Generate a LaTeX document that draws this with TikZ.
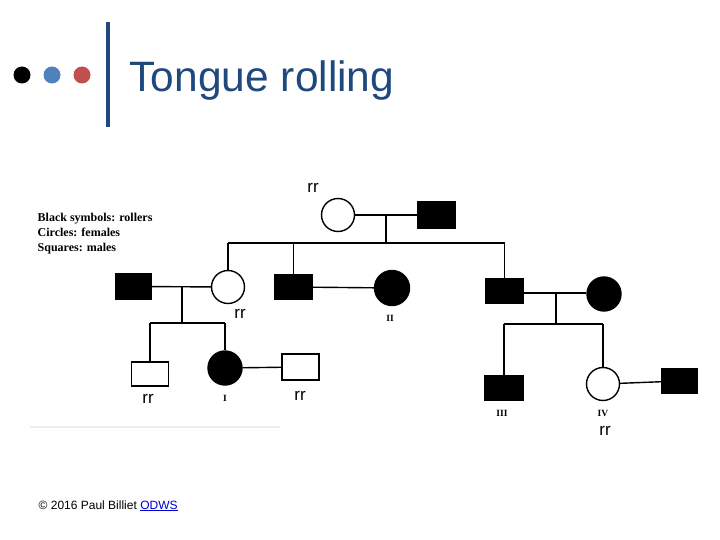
\documentclass[tikz,border=0pt]{standalone}
\usepackage{fontspec}
\setmainfont{Liberation Sans}
\newfontfamily\legendfont{Liberation Serif}
\usetikzlibrary{calc}
\definecolor{titleblue}{HTML}{1F497D}
\definecolor{dotblue}{HTML}{4F81BD}
\definecolor{dotred}{HTML}{C0504D}
\definecolor{linkblue}{HTML}{0000CC}
\begin{document}
\begin{tikzpicture}[x=1pt,y=-1pt,
  line width=1.4pt,
  male/.style={draw=black,rectangle,minimum width=37pt,minimum height=25pt,inner sep=0pt},
  female/.style={draw=black,circle,minimum size=33pt,inner sep=0pt},
  aff/.style={fill=black},
  unaff/.style={fill=white},
  geno/.style={font=\fontsize{17}{19}\selectfont,inner sep=0pt},
  roman/.style={font=\legendfont\bfseries\fontsize{9.5}{10}\selectfont,inner sep=0pt},
  dot/.style={circle,inner sep=0pt,minimum size=17pt}]
\useasboundingbox (0,0) rectangle (720,540);
% header
\node[dot,fill=black] (d1) at (22,75) {};
\node[dot,fill=dotblue] (d2) at (52,75) {};
\node[dot,fill=dotred] (d3) at (82,75) {};
\draw[titleblue,line width=4pt] (108,22) -- (108,127);
\node[anchor=base west,inner sep=0pt,text=titleblue,font=\fontsize{42.5}{46}\selectfont] (title) at (129,92) {Tongue rolling};
% legend
\node[anchor=north west,inner sep=0pt,align=left,font=\legendfont\bfseries\fontsize{12}{15}\selectfont] (legend) at (37,212.5)
  {Black symbols: rollers\\Circles: females\\Squares: males};
% faint scan line
\draw[black!7,line width=1.2pt] (30,427) -- (280,427);
% generation I
\node[female,unaff] (I1) at (338,215) {};
\node[male,aff,minimum height=26pt] (I2) at (436.5,215) {};
\draw (I1) -- (I2);
\coordinate (cI) at (386,215);
\coordinate (sI) at (386,243);
\draw (cI) -- (sI);
\coordinate (sIa) at (228,243);
\coordinate (sIb) at (293.5,243);
\coordinate (sIc) at (504.5,243);
\draw (sIa) -- (sIc);
% generation II
\node[male,aff,minimum width=35pt] (II1) at (133.5,286.5) {};
\node[female,unaff] (II2) at (228,287) {};
\node[male,aff,minimum height=24pt] (II3) at (293.5,287) {};
\node[female,aff,minimum size=35pt] (II4) at (392,288) {};
\node[male,aff,minimum height=24pt] (II5) at (504.5,291) {};
\node[female,aff,minimum size=34pt] (II6) at (604,294) {};
\draw (sIa) -- (II2.north);
\draw (sIb) -- (II3.north);
\draw (sIc) -- (II5.north);
\draw (II1) -- (II2);
\draw (II3) -- (II4);
\draw (II5.east |- 0,293) coordinate (m5) -- (II6.west |- 0,293) coordinate (m6);
\coordinate (cII1) at (182,287);
\coordinate (sII1) at (182,323);
\draw (cII1) -- (sII1);
\coordinate (sII1a) at (150,323);
\coordinate (sII1b) at (225,323);
\draw (sII1a) -- (sII1b);
\coordinate (cII2) at (556,293);
\coordinate (sII2) at (556,324);
\draw (cII2) -- (sII2);
\coordinate (sII2a) at (504,324);
\coordinate (sII2b) at (603,324);
\draw (sII2a) -- (sII2b);
% generation III
\node[male,unaff,minimum height=24pt] (III1) at (150,374) {};
\node[female,aff,minimum size=34pt] (III2) at (225,368) {};
\node[male,unaff,minimum height=26pt] (III3) at (300.5,367) {};
\node[male,aff,minimum width=38pt] (III4) at (504,388) {};
\node[female,unaff] (III5) at (603,384) {};
\node[male,aff,minimum width=35pt,minimum height=24pt] (III6) at (679.5,381) {};
\draw (sII1a) -- (III1.north);
\draw (sII1b) -- (III2.north);
\draw (III2) -- (III3);
\draw (sII2a) -- (III4.north);
\draw (sII2b) -- (III5.north);
\draw (III5) -- (III6);
% roman numerals
\node[roman] (rII) at (390,318) {II};
\node[roman] (rI) at (225,398) {I};
\node[roman] (rIII) at (502,413) {III};
\node[roman] (rIV) at (603,413) {IV};
% genotypes
\node[geno] (g1) at (313,188) {rr};
\node[geno] (g2) at (240,314) {rr};
\node[geno] (g3) at (148,399) {rr};
\node[geno] (g4) at (300,396) {rr};
\node[geno] (g5) at (605,431) {rr};
% footer
\node[anchor=base west,inner sep=0pt,font=\fontsize{12}{14}\selectfont] (copy) at (38,509)
  {\textcopyright{} 2016 Paul Billiet \textcolor{linkblue}{\underline{ODWS}}};
\end{tikzpicture}
\end{document}
